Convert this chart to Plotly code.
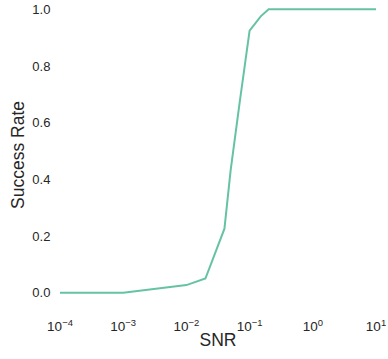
import plotly.graph_objects as go
import numpy as np

snr = [1e-4, 1e-3, 1e-2, 0.02, 0.04, 0.05, 0.07, 0.08, 0.1, 0.15, 0.2, 1.0, 10.0]
success = [0.0, 0.0, 0.027, 0.05, 0.226, 0.43, 0.675, 0.77, 0.925, 0.975, 1.0, 1.0, 1.0]

x_tick_vals = [1e-4, 1e-3, 1e-2, 1e-1, 1e0, 1e1]
x_tick_text = ["10<sup>\u22124</sup>", "10<sup>\u22123</sup>", "10<sup>\u22122</sup>",
               "10<sup>\u22121</sup>", "10<sup>0</sup>", "10<sup>1</sup>"]
y_tick_vals = [0.0, 0.2, 0.4, 0.6, 0.8, 1.0]
y_tick_text = ["0.0", "0.2", "0.4", "0.6", "0.8", "1.0"]

fig = go.Figure()
fig.add_trace(go.Scatter(x=snr, y=success, mode="lines",
                         line=dict(color="#66c2a5", width=2), showlegend=False))

font_family = "Liberation Sans, Arial, sans-serif"
fig.update_layout(
    width=388, height=359,
    margin=dict(l=60, r=5.5, t=2, b=52),
    paper_bgcolor="white", plot_bgcolor="white",
    font=dict(family=font_family, color="#262626"),
    xaxis=dict(type="log", range=[-4, 1], tickvals=x_tick_vals, ticktext=x_tick_text,
               showgrid=False, zeroline=False, showline=False,
               ticks="outside", ticklen=7, tickcolor="rgba(0,0,0,0)",
               tickfont=dict(size=13.5, color="#262626"), ticklabeloverflow="allow",
               title=dict(text="SNR", font=dict(size=17.5, color="#262626"), standoff=0)),
    yaxis=dict(range=[-0.0503, 1.0222], tickvals=y_tick_vals, ticktext=y_tick_text,
               showgrid=False, zeroline=False, showline=False,
               ticks="outside", ticklen=6, tickcolor="rgba(0,0,0,0)",
               tickfont=dict(size=13, color="#262626"),
               title=dict(text="Success Rate", font=dict(size=17.5, color="#262626"), standoff=3)),
)

fig.write_html("out.html")
